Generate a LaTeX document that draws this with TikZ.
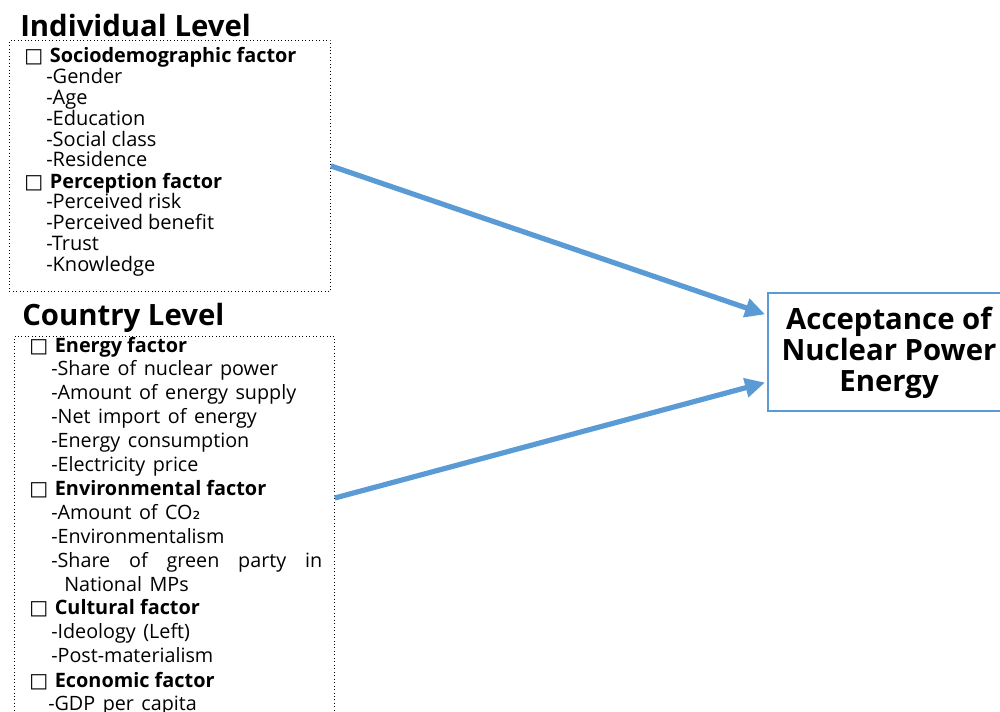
\documentclass[tikz,border=0pt]{standalone}
\usepackage{fontspec}
\setmainfont{Open Sans}
\newfontfamily\symf{DejaVu Sans}
\usetikzlibrary{arrows.meta}
\definecolor{arrblue}{HTML}{5B9BD5}
\newcommand{\cbox}{{\symf\fontsize{15}{15}\selectfont □}}
\newcommand{\subtwo}{{\symf ₂}}
\newcommand{\widesp}{\spaceskip=0.38em plus 0.1em\relax}
\begin{document}
\begin{tikzpicture}[x=0.75pt,y=-0.75pt,
  lvl/.style={anchor=base west, inner sep=0, font=\fontsize{22}{26}\bfseries\selectfont},
  head/.style={anchor=base west, inner sep=0, font=\fontsize{14.9}{17}\bfseries\selectfont},
  item/.style={anchor=base west, inner sep=0, font=\fontsize{15}{17}\selectfont},
  citem/.style={anchor=base west, inner sep=0, font=\fontsize{14.8}{17}\selectfont\widesp},
  dotbox/.style={draw, dotted, line width=0.6pt, inner sep=0, anchor=north west},
  conn/.style={draw=arrblue, line width=3.9pt, -{Triangle[length=15pt,width=14pt]}, shorten >=1.5pt}]
\useasboundingbox (0,0) rectangle (1000,711);
\clip (0,0) rectangle (1000,711);

% boxes
\node[dotbox, minimum width=240.75pt, minimum height=188.25pt] (ind) at (9,40) {};
\node[dotbox, minimum width=240pt, minimum height=295.5pt] (cty) at (14,336) {};
\node[draw=arrblue, line width=1.5pt, anchor=north west, minimum width=181.5pt, minimum height=88.5pt, inner sep=0] (acc) at (767,292) {};
\node[align=center, inner sep=0, font=\fontsize{22}{23.25}\bfseries\selectfont] (acctxt) at (889,353) {Acceptance of\\Nuclear Power\\Energy};

% level titles
\node[lvl] (tind) at (20,36) {Individual Level};
\node[lvl] (tcty) at (22,325) {Country Level};

% individual level
\node[head] (h1) at (24,62.5) {\cbox\hspace{5pt}Sociodemographic factor};
\node[item] (i1) at (46,83) {-Gender};
\node[item] (i2) at (46,104) {-Age};
\node[item] (i3) at (46,125) {-Education};
\node[item] (i4) at (46,146) {-Social class};
\node[item] (i5) at (46,166) {-Residence};
\node[head] (h2) at (24,188) {\cbox\hspace{5pt}Perception factor};
\node[item] (i6) at (46,208) {-Perceived risk};
\node[item] (i7) at (46,229) {-Perceived benefit};
\node[item] (i8) at (46,250) {-Trust};
\node[item] (i9) at (46,271) {-Knowledge};

% country level
\node[head] (c1) at (29,352) {\cbox\hspace{5pt}Energy factor};
\node[citem] (c11) at (51,375.5) {-Share of nuclear power};
\node[citem] (c12) at (51,399.5) {-Amount of energy supply};
\node[citem] (c13) at (51,423.5) {-Net import of energy};
\node[citem] (c14) at (51,447.5) {-Energy consumption};
\node[citem] (c15) at (51,471.5) {-Electricity price};
\node[head] (c2) at (29,495.5) {\cbox\hspace{5pt}Environmental factor};
\node[citem] (c21) at (51,519) {-Amount of CO\subtwo};
\node[citem] (c22) at (51,543) {-Environmentalism};
\node[citem] (c23) at (51,567) {\makebox[203.25pt][s]{-Share\hfill of\hfill green\hfill party\hfill in}};
\node[citem] (c24) at (64,591) {National MPs};
\node[head] (c3) at (29,614.5) {\cbox\hspace{5pt}Cultural factor};
\node[citem] (c31) at (51,638.5) {-Ideology (Left)};
\node[citem] (c32) at (51,662.5) {-Post-materialism};
\node[head] (c4) at (29,687) {\cbox\hspace{5pt}Economic factor};
\node[citem] (c41) at (48,710.5) {-GDP per capita};

% connectors
\draw[conn] (ind.east) -- (acc.west |- 0,315);
\draw[conn] (cty.east |- 0,498) -- (acc.west |- 0,382);
\end{tikzpicture}
\end{document}
